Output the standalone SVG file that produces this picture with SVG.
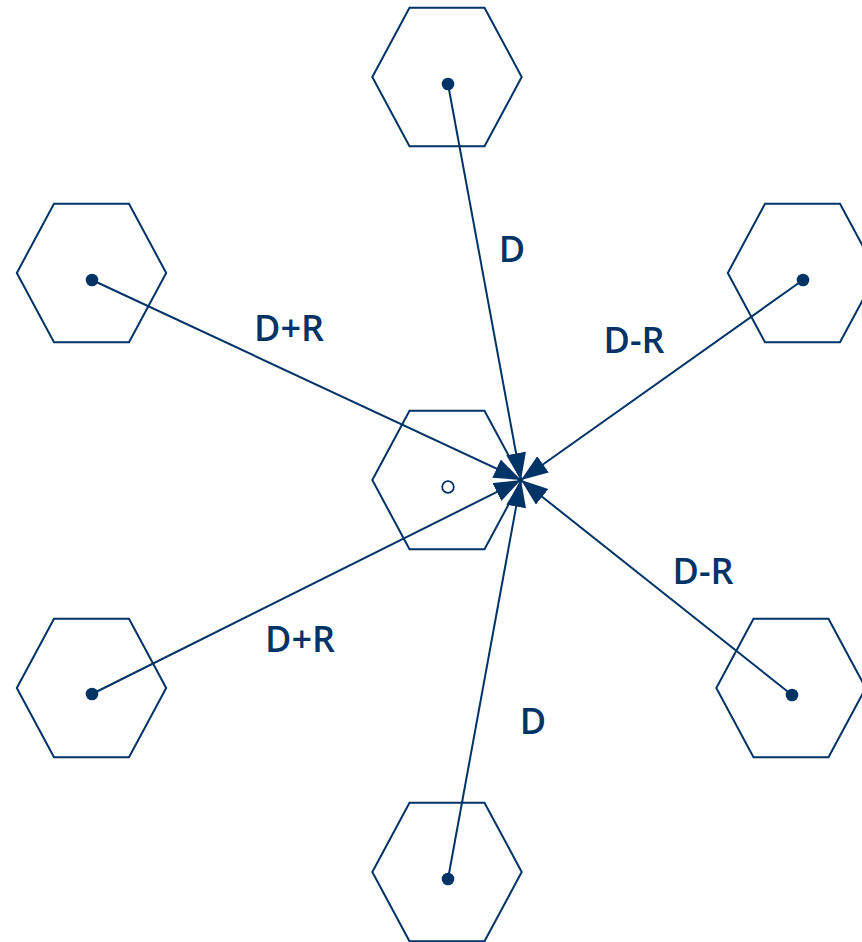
<svg xmlns="http://www.w3.org/2000/svg" xmlns:xlink="http://www.w3.org/1999/xlink" width="862" height="942" viewBox="0 0 862 942">
  <style>
    .hex { fill: none; stroke: #003366; stroke-width: 2; }
    .dot { fill: #003366; }
    .hole { fill: #ffffff; stroke: #003366; stroke-width: 1.8; }
    .conn { stroke: #003366; stroke-width: 2; fill: none; marker-end: url(#arrow); }
    .lbl { font-family: "Comic Sans MS", "Open Sans", "DejaVu Sans", sans-serif; font-size: 36px; font-weight: 600; fill: #003366; text-anchor: middle; }
  </style>
  <defs>
    <polygon id="hexshape" points="-37.5,-69.3 37.5,-69.3 74.7,0 37.5,69.3 -37.5,69.3 -74.7,0"/>
    <marker id="arrow" markerUnits="userSpaceOnUse" markerWidth="30" markerHeight="22" refX="27" refY="10" orient="auto">
      <path d="M0,0 L27,10 L0,20 z" fill="#003366"/>
    </marker>
  </defs>
  <rect width="862" height="942" fill="#ffffff"/>

  <g id="hex-center">
    <use xlink:href="#hexshape" class="hex" transform="translate(447,480)"/>
    <circle class="hole" cx="448" cy="487" r="5.8"/>
  </g>
  <g id="hex-top">
    <use xlink:href="#hexshape" class="hex" transform="translate(447,77)"/>
    <circle class="dot" cx="448" cy="84" r="6.3"/>
  </g>
  <g id="hex-upper-left">
    <use xlink:href="#hexshape" class="hex" transform="translate(91.5,273)"/>
    <circle class="dot" cx="92" cy="280" r="6.3"/>
  </g>
  <g id="hex-upper-right">
    <use xlink:href="#hexshape" class="hex" transform="translate(802.5,273)"/>
    <circle class="dot" cx="803" cy="280" r="6.3"/>
  </g>
  <g id="hex-lower-left">
    <use xlink:href="#hexshape" class="hex" transform="translate(91.5,688)"/>
    <circle class="dot" cx="92" cy="694" r="6.3"/>
  </g>
  <g id="hex-lower-right">
    <use xlink:href="#hexshape" class="hex" transform="translate(791,688)"/>
    <circle class="dot" cx="792" cy="695" r="6.3"/>
  </g>
  <g id="hex-bottom">
    <use xlink:href="#hexshape" class="hex" transform="translate(447,872)"/>
    <circle class="dot" cx="448" cy="879" r="6.3"/>
  </g>

  <g id="connectors">
    <line class="conn" x1="448" y1="84" x2="521" y2="480"/>
    <line class="conn" x1="92" y1="280" x2="521" y2="480"/>
    <line class="conn" x1="803" y1="280" x2="521" y2="480"/>
    <line class="conn" x1="92" y1="694" x2="521" y2="480"/>
    <line class="conn" x1="792" y1="695" x2="521" y2="480"/>
    <line class="conn" x1="448" y1="879" x2="521" y2="480"/>
  </g>

  <g id="labels">
    <text class="lbl" x="512" y="262">D</text>
    <text class="lbl" x="289" y="341">D+R</text>
    <text class="lbl" x="634" y="353">D-R</text>
    <text class="lbl" x="703" y="584">D-R</text>
    <text class="lbl" x="300" y="652">D+R</text>
    <text class="lbl" x="533" y="734">D</text>
  </g>
</svg>
